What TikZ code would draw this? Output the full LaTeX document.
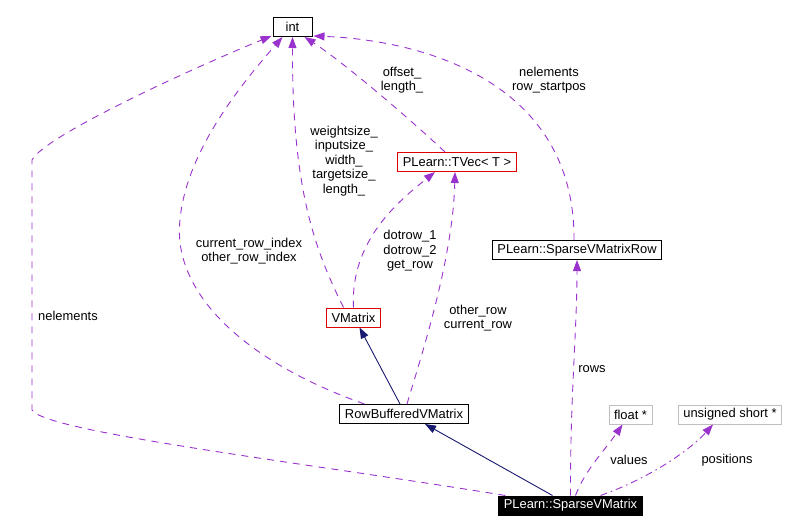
\documentclass[tikz,border=0pt]{standalone}
\usepackage{fontspec}
\setmainfont{Liberation Sans}
\usetikzlibrary{arrows.meta}
\definecolor{edgepurple}{HTML}{9A32CD}
\definecolor{edgenavy}{HTML}{191970}
\definecolor{boxred}{HTML}{E00000}
\definecolor{boxgray}{HTML}{BFBFBF}
\begin{document}
\begin{tikzpicture}[x=1pt,y=-1pt,
  every node/.style={font=\fontsize{12.9}{14.5}\selectfont, inner sep=0pt},
  cls/.style={draw=black, line width=1pt, inner xsep=5pt, minimum height=19pt, fill=white},
  redcls/.style={cls, draw=boxred},
  graycls/.style={cls, draw=boxgray},
  maincls/.style={cls, fill=black, text=white},
  lbl/.style={align=center},
  useedge/.style={draw=edgepurple, line width=0.9pt, dash pattern=on 7pt off 6pt,
    -{Triangle[length=11pt,width=8pt,fill=edgepurple]}},
  usedot/.style={useedge, dash pattern=on 7pt off 4pt on 1.5pt off 4pt},
  inh/.style={draw=edgenavy, line width=0.9pt, -{Triangle[length=11pt,width=8pt,fill=edgenavy]}}
]
\useasboundingbox (0,0) rectangle (797,532);

% nodes
\node[cls, minimum width=39pt] (int) at (292.5,27) {int};
\node[redcls] (tvec) at (457,162) {PLearn::TVec< T >};
\node[cls] (svmrow) at (577,250) {PLearn::SparseVMatrixRow};
\node[redcls] (vmat) at (353.5,317.5) {VMatrix};
\node[cls] (rbvm) at (404,414) {RowBufferedVMatrix};
\node[graycls] (flt) at (630.5,414.5) {float *};
\node[graycls] (ush) at (730,414.5) {unsigned short *};
\node[maincls] (svm) at (570.5,505.5) {PLearn::SparseVMatrix};

% edges to int
\draw[useedge] ([xshift=7pt]svm.north west) .. controls (300,462) and (45,432) .. (32,410)
  -- (32,160) .. controls (45,135) and (200,65) .. ([xshift=-1pt,yshift=1pt]int.south west);
\node[lbl] (l1) at (68,316) {nelements};

\draw[useedge] ([xshift=25pt]rbvm.north west) .. controls (240,360) and (172,290) .. (180,220)
  .. controls (186,150) and (245,80) .. ([xshift=-10pt]int.south);
\node[lbl] (l2) at (249,251) {current\_row\_index\\other\_row\_index};

\draw[useedge] ([xshift=-10pt]vmat.north) .. controls (315,250) and (292,190) .. (int.south);
\node[lbl] (l3) at (344,161) {weightsize\_\\inputsize\_\\width\_\\targetsize\_\\length\_};

\draw[useedge] ([xshift=-12pt]tvec.north) .. controls (400,110) and (340,60) .. ([xshift=12pt]int.south);
\node[lbl] (l4) at (402,80) {offset\_\\length\_};

\draw[useedge] ([xshift=-3pt]svmrow.north) .. controls (575,80) and (420,40) .. ([xshift=1pt,yshift=1pt]int.south east);
\node[lbl] (l5) at (549,80) {nelements\\row\_startpos};

% edges to TVec
\draw[useedge] (vmat.north) .. controls (350,240) and (400,200) .. ([xshift=-22pt]tvec.south);
\node[lbl] (l6) at (410,251) {dotrow\_1\\dotrow\_2\\get\_row};

\draw[useedge] ([xshift=3pt]rbvm.north) .. controls (420,360) and (453,260) .. ([xshift=-2pt]tvec.south);
\node[lbl] (l7) at (478,318) {other\_row\\current\_row};

% inheritance
\draw[inh] ([xshift=-4pt]rbvm.north) -- ([xshift=6pt]vmat.south);
\draw[inh] ([xshift=-18pt]svm.north) -- ([xshift=21pt]rbvm.south);

% from SparseVMatrix
\draw[useedge] (svm.north) .. controls (570,400) and (577,330) .. (svmrow.south);
\node[lbl] (l8) at (592,369) {rows};

\draw[useedge] ([xshift=5pt]svm.north) .. controls (585,470) and (605,450) .. ([xshift=-8pt]flt.south);
\node[lbl] (l9) at (629,460) {values};

\draw[usedot] ([xshift=30pt]svm.north) .. controls (650,478) and (690,450) .. ([xshift=-17pt]ush.south);
\node[lbl] (l10) at (727,460) {positions};
\end{tikzpicture}
\end{document}
